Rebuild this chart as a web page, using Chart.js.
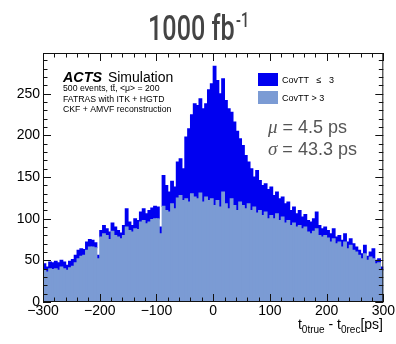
<!DOCTYPE html>
<html>
<head>
<meta charset="utf-8">
<script src="https://cdn.jsdelivr.net/npm/chart.js@4.4.1/dist/chart.umd.min.js"></script>
<style>
  html, body { margin: 0; padding: 0; background: #fff; }
  canvas { display: block; }
</style>
</head>
<body>
<canvas id="hist" width="396" height="344"></canvas>
<script>
// ── histogram binning: 120 bins of 5 ps from -300 to 300 ──
const binLo = -300;
const binWidth = 5;

// CovTT > 3 (light, bottom of stack)
const covHigh = [
  38, 36, 40, 39, 40, 38, 42, 40, 38, 41,
  43, 47, 52, 55, 56, 62, 66, 66, 65, 52,
  78, 82, 80, 75, 85, 80, 78, 76, 80, 90,
  86, 84, 88, 87, 96, 98, 94, 96, 99, 100,
  100, 82, 115, 110, 108, 118, 112, 125, 128, 122,
  124, 120, 130, 126, 124, 131, 120, 126, 122, 124,
  116, 122, 114, 132, 118, 112, 124, 116, 110, 120,
  116, 112, 118, 110, 114, 107, 110, 104, 108, 100,
  104, 100, 106, 98, 102, 95, 98, 92, 95, 90,
  92, 88, 90, 84, 82, 85, 88, 80, 78, 80,
  77, 72, 76, 70, 72, 66, 72, 64, 68, 62,
  60, 56, 52, 58, 50, 54, 52, 46, 47, 38
];

// CovTT <= 3 (dark, stacked on top)
const covLow = [
  8, 6, 8, 8, 9, 9, 8, 8, 6, 8,
  8, 9, 10, 9, 7, 10, 9, 8, 6, 4,
  8, 10, 8, 9, 10, 10, 8, 7, 12, 22,
  10, 8, 12, 11, 12, 14, 12, 14, 14, 15,
  14, 8, 37, 30, 24, 27, 26, 43, 44, 38,
  74, 88, 95, 112, 112, 113, 112, 112, 133, 138,
  167, 144, 136, 136, 124, 120, 104, 100, 95, 76,
  72, 64, 50, 50, 36, 51, 36, 36, 34, 35,
  34, 28, 26, 26, 24, 23, 22, 18, 19, 16,
  18, 14, 15, 14, 14, 15, 20, 12, 10, 10,
  9, 10, 12, 8, 8, 8, 10, 8, 8, 8,
  6, 6, 6, 10, 5, 6, 12, 4, 5, 4
];

const xTickLabels = [-300, -200, -100, 0, 100, 200, 300];
const yTickLabels = [0, 50, 100, 150, 200, 250];
const xRange = [-300, 300];
const yRange = [0, 299];
const xMinorStep = 20, yMinorStep = 10;

const LIGHT = '#7b9bd4';
const DARK = '#0000f0';

const toPoints = vals => vals.map((v, i) => ({ x: binLo + binWidth * (i + 0.5), y: v }));

// ROOT-style frame with ticks pointing inwards on all four sides
const frameTicks = {
  id: 'frameTicks',
  afterDatasetsDraw(chart) {
    const { ctx, chartArea: a, scales: { x, y } } = chart;
    ctx.save();
    ctx.strokeStyle = '#111';
    ctx.lineWidth = 1;
    ctx.strokeRect(a.left + 0.5, a.top + 0.5, a.right - a.left - 1, a.bottom - a.top - 1);
    ctx.beginPath();
    for (let v = xRange[0]; v <= xRange[1]; v += xMinorStep) {
      const px = Math.round(x.getPixelForValue(v)) + 0.5;
      const len = xTickLabels.includes(v) ? 8 : 4.5;
      ctx.moveTo(px, a.bottom); ctx.lineTo(px, a.bottom - len);
      ctx.moveTo(px, a.top); ctx.lineTo(px, a.top + len);
    }
    for (let v = yRange[0]; v <= yRange[1]; v += yMinorStep) {
      const py = Math.round(y.getPixelForValue(v)) + 0.5;
      const len = yTickLabels.includes(v) ? 8 : 4.5;
      ctx.moveTo(a.left, py); ctx.lineTo(a.left + len, py);
      ctx.moveTo(a.right, py); ctx.lineTo(a.right - len, py);
    }
    ctx.stroke();
    ctx.restore();
  }
};

// title, labels, legend and fit results
const annotations = {
  id: 'annotations',
  afterDraw(chart) {
    const ctx = chart.ctx;
    ctx.save();
    ctx.textBaseline = 'alphabetic';

    // title "1000 fb^-1" (condensed)
    ctx.save();
    ctx.translate(148, 40);
    ctx.scale(0.72, 1);
    ctx.fillStyle = '#444';
    ctx.font = '500 35px Roboto';
    ctx.fillText('1000 fb', 0, 0);
    const tw = ctx.measureText('1000 fb').width;
    ctx.font = '500 20px Roboto';
    ctx.fillText('-1', tw + 2, -13);
    ctx.restore();

    // ACTS Simulation
    ctx.fillStyle = '#000';
    ctx.font = 'italic bold 14.3px "Liberation Sans"';
    ctx.fillText('ACTS', 63, 82);
    const aw = ctx.measureText('ACTS').width;
    ctx.font = '14px "Liberation Sans"';
    ctx.fillText('Simulation', 63 + aw + 6, 82);

    ctx.font = '8.7px "Liberation Sans"';
    ctx.fillText('500 events, tt\u0304, <\u03bc> = 200', 63, 91);
    ctx.fillText('FATRAS with ITK + HGTD', 63, 101.5);
    ctx.fillText('CKF + AMVF reconstruction', 63, 112);

    // legend
    ctx.fillStyle = DARK;
    ctx.fillRect(258, 73, 20, 13);
    ctx.fillStyle = LIGHT;
    ctx.fillRect(258, 91, 20, 13);
    ctx.fillStyle = '#000';
    ctx.font = '9px "Liberation Sans"';
    ctx.fillText('CovTT   \u2264   3', 282, 82.5);
    ctx.fillText('CovTT > 3', 282, 101);

    // fit results
    const fit = (sym, rest, yy) => {
      ctx.fillStyle = '#555';
      ctx.font = 'italic 19px "Liberation Serif"';
      ctx.fillText(sym, 268, yy);
      const sw = ctx.measureText(sym).width;
      ctx.font = '18px "Liberation Sans"';
      ctx.fillText(rest, 268 + sw, yy);
    };
    fit('\u03bc', ' = 4.5 ps', 133);
    fit('\u03c3', ' = 43.3 ps', 155);

    // x-axis title: t_0true - t_0rec[ps]
    const parts = [['t', 14, 0], ['0true', 10, 4], [' - t', 14, 0], ['0rec', 10, 4], ['[ps]', 14, 0]];
    let total = 0;
    parts.forEach(p => { ctx.font = p[1] + 'px "Liberation Sans"'; total += ctx.measureText(p[0]).width; });
    let cx = 383 - total;
    ctx.fillStyle = '#000';
    parts.forEach(p => {
      ctx.font = p[1] + 'px "Liberation Sans"';
      ctx.fillText(p[0], cx, 329 + p[2]);
      cx += ctx.measureText(p[0]).width;
    });
    ctx.restore();
  }
};

const fmt = v => (v < 0 ? '\u2212' + Math.abs(v) : String(v));

new Chart(document.getElementById('hist'), {
  type: 'bar',
  data: {
    datasets: [
      { label: 'CovTT > 3', data: toPoints(covHigh), backgroundColor: LIGHT, borderWidth: 0, inflateAmount: 0.5 },
      { label: 'CovTT \u2264 3', data: toPoints(covLow), backgroundColor: DARK, borderWidth: 0, inflateAmount: 0.5 }
    ]
  },
  options: {
    responsive: false,
    animation: false,
    devicePixelRatio: 1,
    barPercentage: 1,
    categoryPercentage: 1,
    layout: { padding: { top: 53, right: 12, left: 0, bottom: 0 } },
    plugins: { legend: { display: false }, tooltip: { enabled: false }, title: { display: false } },
    scales: {
      x: {
        type: 'linear', stacked: true, offset: false,
        min: xRange[0], max: xRange[1],
        grid: { display: false, drawTicks: false }, border: { display: false },
        ticks: { padding: 1, color: '#000', maxRotation: 0, autoSkip: false,
                 font: { family: 'Liberation Sans', size: 14 }, callback: v => fmt(v) },
        afterBuildTicks: s => { s.ticks = xTickLabels.map(v => ({ value: v })); },
        afterFit: s => { s.height = 42; }
      },
      y: {
        stacked: true, min: yRange[0], max: yRange[1],
        grid: { display: false, drawTicks: false }, border: { display: false },
        ticks: { padding: 3, color: '#000', autoSkip: false,
                 font: { family: 'Liberation Sans', size: 14 } },
        afterBuildTicks: s => { s.ticks = yTickLabels.map(v => ({ value: v })); },
        afterFit: s => { s.width = 43; }
      }
    }
  },
  plugins: [frameTicks, annotations]
});
</script>
</body>
</html>
